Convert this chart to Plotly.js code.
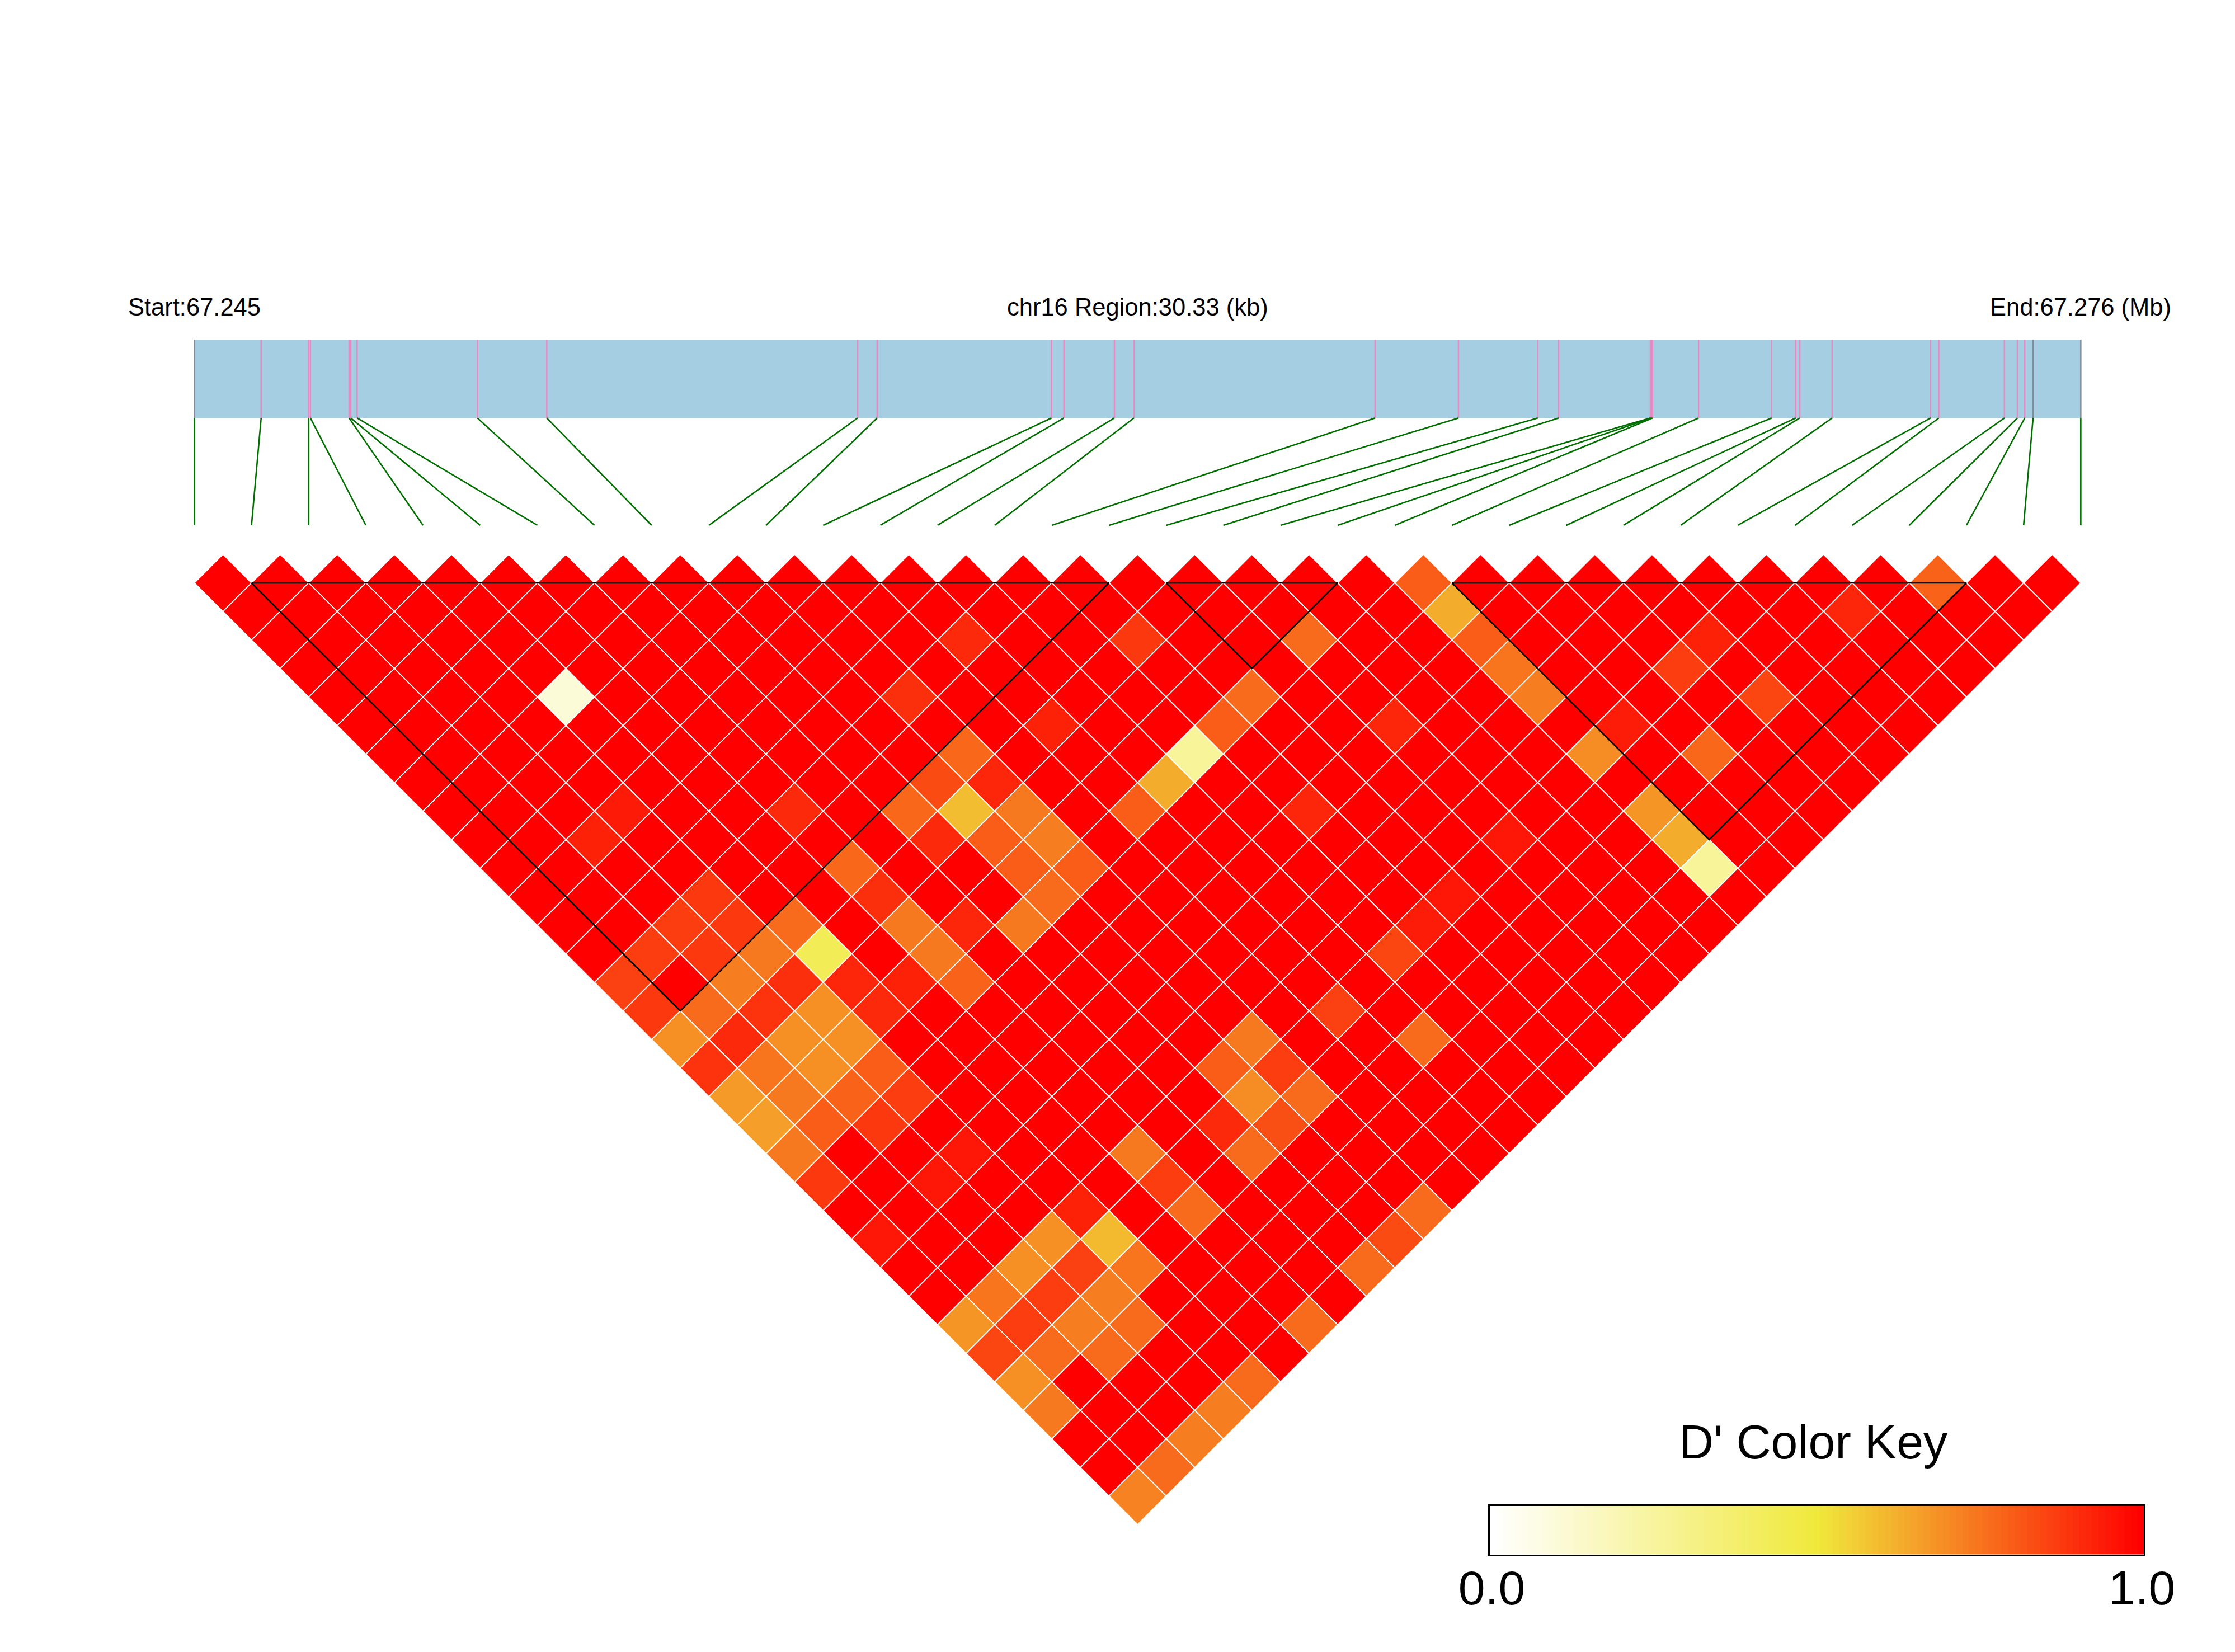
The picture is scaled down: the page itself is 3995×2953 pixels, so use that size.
<!DOCTYPE html>
<html>
<head>
<meta charset="utf-8">
<script src="https://cdn.plot.ly/plotly-3.0.1.min.js"></script>
<style>html,body{margin:0;padding:0;background:#fff}#chart{width:3995px;height:2953px}</style>
</head>
<body>
<div id="chart"></div>
<script>
// SNP positions along the region, kb from start
const regionKb = 30.33;
const snpKb = [0, 1.074, 1.838, 1.866, 2.488, 2.515, 2.617, 4.551, 5.666, 10.664, 10.978,
  13.781, 13.981, 14.793, 15.106, 18.984, 20.325, 21.599, 21.934, 23.41, 23.427, 23.445,
  24.185, 25.359, 25.746, 25.812, 26.332, 27.915, 28.048, 29.103, 29.311, 29.430, 29.563, 30.33];
const greySnps = [0, 32, 33];
// LD blocks: first and last SNP index
const blockStart = [1, 17, 22];
const blockEnd = [16, 20, 31];
// D' is 1.0 except for these pairs: [lag row, first SNP, D']
const lowDprime = [
 [0,21,.8],[0,30,.79],
 [1,21,.63],[1,28,.92],
 [2,12,.91],[2,15,.88],[2,18,.77],[2,21,.8],[2,25,.93],
 [3,21,.75],[3,24,.87],
 [4,4,.1],[4,10,.9],[4,16,.77],[4,21,.73],[4,25,.85],
 [5,12,.93],[5,15,.8],[5,18,.92],[5,22,.94],
 [6,10,.78],[6,14,.26],[6,21,.7],[6,23,.78],
 [7,9,.84],[7,10,.92],[7,13,.63],
 [8,3,.945],[8,6,.91],[8,8,.78],[8,9,.595],[8,10,.74],[8,12,.8],[8,15,.92],[8,21,.68],
 [9,2,.93],[9,8,.91],[9,9,.8],[9,10,.73],[9,18,.95],[9,21,.63],
 [10,6,.78],[10,9,.8],[10,10,.8],[10,21,.26],
 [11,3,.88],[11,6,.9],[11,9,.77],[11,16,.95],
 [12,2,.87],[12,3,.88],[12,4,.77],[12,6,.74],[12,7,.92],[12,8,.74],[12,15,.94],
 [13,1,.87],[13,2,.88],[13,3,.74],[13,4,.43],[13,6,.74],[13,14,.85],
 [14,0,.86],[14,2,.73],[14,3,.9],[14,4,.92],[14,5,.93],[14,6,.79],
 [15,0,.88],[15,1,.77],[15,2,.89],[15,3,.69],[15,4,.91],[15,12,.86],
 [16,0,.69],[16,1,.91],[16,2,.69],[16,3,.69],[16,10,.74],[16,13,.77],
 [17,0,.89],[17,1,.75],[17,2,.69],[17,3,.8],[17,9,.8],[17,10,.87],
 [18,0,.67],[18,1,.74],[18,2,.79],[18,3,.87],[18,9,.7],[18,10,.77],
 [19,0,.66],[19,1,.8],[19,2,.88],[19,8,.91],[19,9,.83],
 [20,0,.74],[20,3,.95],[20,6,.74],[20,8,.77],
 [21,0,.88],[21,2,.95],[21,6,.87],
 [22,4,.93],[22,6,.77],[22,10,.77],
 [23,0,.95],[23,3,.69],[23,4,.6],[23,9,.84],
 [24,2,.69],[24,3,.86],[24,4,.75],[24,8,.77],
 [25,1,.75],[25,2,.87],[25,3,.73],
 [26,0,.68],[26,1,.87],[26,2,.73],[26,3,.77],[26,6,.77],
 [27,0,.85],[27,1,.77],[27,2,.77],
 [28,0,.69],[28,4,.77],
 [29,0,.74],[29,3,.73],
 [30,2,.73],
 [31,1,.77],
 [32,0,.72]
];
const keyLevels = [0,.01,.02,.03,.04,.05,.06,.07,.08,.09,.1,.11,.12,.13,.14,.15,.16,.17,.18,.19,.2,.21,.22,.23,.24,.25,.26,.27,.28,.29,.3,.31,.32,.33,.34,.35,.36,.37,.38,.39,.4,.41,.42,.43,.44,.45,.46,.47,.48,.49,.5,
  .51,.52,.53,.54,.55,.56,.57,.58,.59,.6,.61,.62,.63,.64,.65,.66,.67,.68,.69,.7,.71,.72,.73,.74,.75,.76,.77,.78,.79,.8,.81,.82,.83,.84,.85,.86,.87,.88,.89,.9,.91,.92,.93,.94,.95,.96,.97,.98,.99,1];
const dprimeScale = [[0,'#ffffff'],[0.5,'#f0e93c'],[1,'#ff0000']];

const W = 3995, H = 2953;
const PX0 = 347.4, UX = 102.18, PY0 = 1042, UY = 51;   // axis mapping of the canvas
const bandTop = -8.53, bandBottom = -5.78, linkBottom = -2.02;
const n = snpKb.length;
const kbToX = kb => kb / regionKb * (n - 1);

// cell grid
const cellX = [], cellY = [], cellD = [];
const lowKey = {};
lowDprime.forEach(([r, i, v]) => { lowKey[r + '_' + i] = v; });
for (let r = 0; r < n - 1; r++) {
  for (let i = 0; i < n - 1 - r; i++) {
    cellX.push(i + 0.5 + r / 2);
    cellY.push(r);
    const k = r + '_' + i;
    cellD.push(k in lowKey ? lowKey[k] : 1);
  }
}
// vertical SNP lines on the region band and links down to the cell row
const pinkX = [], pinkY = [], greyX = [], greyY = [], linkX = [], linkY = [];
snpKb.forEach((kb, k) => {
  const x = kbToX(kb);
  const tx = greySnps.includes(k) ? greyX : pinkX;
  const ty = greySnps.includes(k) ? greyY : pinkY;
  tx.push(x, x, null); ty.push(bandTop, bandBottom, null);
  linkX.push(x, k, null); linkY.push(bandBottom, linkBottom, null);
});
const blockX = [], blockY = [];
blockStart.forEach((a, b) => {
  const e = blockEnd[b];
  blockX.push(a, e, (a + e) / 2, a, null);
  blockY.push(0, 0, e - a, 0, null);
});
const base = {hoverinfo: 'skip', showlegend: false};
const traces = [
  {...base, type: 'scatter', mode: 'lines', x: [0, n - 1, n - 1, 0, 0], y: [bandTop, bandTop, bandBottom, bandBottom, bandTop],
   fill: 'toself', fillcolor: '#a6cee3', line: {width: 0}},
  {...base, type: 'scatter', mode: 'lines', x: pinkX, y: pinkY, line: {color: '#e78ac3', width: 2.5}},
  {...base, type: 'scatter', mode: 'lines', x: greyX, y: greyY, line: {color: '#828c96', width: 2.5}},
  {...base, type: 'scatter', mode: 'lines', x: linkX, y: linkY, line: {color: '#006f00', width: 2.6}},
  {...base, type: 'scatter', mode: 'markers', x: cellX, y: cellY,
   marker: {symbol: 'diamond', size: 78.6, color: cellD, cmin: 0, cmax: 1, colorscale: dprimeScale,
            showscale: false, line: {color: '#ffffff', width: 1.8}}},
  {...base, type: 'scatter', mode: 'lines', x: blockX, y: blockY, line: {color: '#000000', width: 2.6}},
  {...base, type: 'heatmap', x: keyLevels, y: [0], z: [keyLevels], xaxis: 'x2', yaxis: 'y2',
   zmin: 0, zmax: 1, colorscale: dprimeScale, showscale: false}
];
const textFont = {family: '"Liberation Sans", Arial, sans-serif', color: '#000000'};
const headerY = (564 + 11 - PY0) / UY;
const headerNote = (text, x) => ({text, x, y: headerY, xref: 'x', yref: 'y', xanchor: 'center', yanchor: 'bottom',
  showarrow: false, font: {...textFont, size: 43.5}});
const layout = {
  width: W, height: H, margin: {l: 0, r: 0, t: 0, b: 0}, paper_bgcolor: '#ffffff', plot_bgcolor: '#ffffff',
  showlegend: false,
  xaxis: {domain: [0, 1], range: [-PX0 / UX, (W - PX0) / UX], visible: false, fixedrange: true},
  yaxis: {domain: [0, 1], range: [(H - PY0) / UY, -PY0 / UY], visible: false, fixedrange: true},
  xaxis2: {domain: [2663 / W, 3832 / W], anchor: 'y2', range: [-0.005, 1.005], showgrid: false, zeroline: false,
           tickmode: 'array', tickvals: [-0.002, 1.002], ticktext: ['0.0', '1.0'], ticks: '',
           tickfont: {...textFont, size: 86}, showline: true, mirror: true, linecolor: '#000000', linewidth: 3, ticklabelstandoff: -17},
  yaxis2: {domain: [1 - 2778.5 / H, 1 - 2692 / H], anchor: 'x2', range: [-0.5, 0.5], showgrid: false, zeroline: false,
           showticklabels: false, ticks: '', showline: true, mirror: true, linecolor: '#000000', linewidth: 3},
  annotations: [
    headerNote('Start:67.245', 0),
    headerNote('chr16 Region:30.33 (kb)', (n - 1) / 2),
    headerNote('End:67.276 (Mb)', n - 1),
    {text: "D' Color Key", x: (3241 - PX0) / UX, y: (2605 + 22 - PY0) / UY, xref: 'x', yref: 'y', xanchor: 'center', yanchor: 'bottom',
     showarrow: false, font: {...textFont, size: 86}}
  ]
};
Plotly.newPlot('chart', traces, layout, {displayModeBar: false, staticPlot: true});
</script>
</body>
</html>
